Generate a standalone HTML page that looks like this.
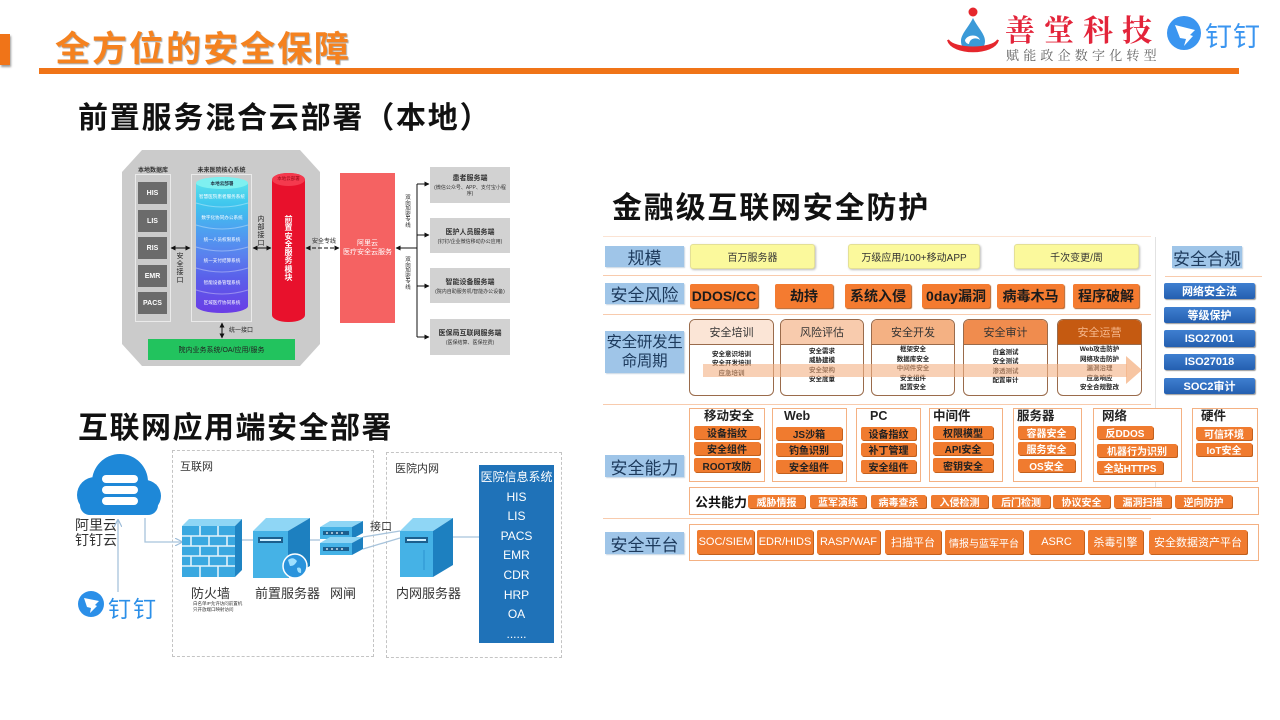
<!DOCTYPE html>
<html><head><meta charset="utf-8">
<style>
*{margin:0;padding:0;box-sizing:border-box}
body{width:1280px;height:720px;overflow:hidden;background:#fff;position:relative;font-family:"Liberation Sans","Noto Sans CJK SC",sans-serif;color:#222}
.a{position:absolute}
.c{display:flex;align-items:center;justify-content:center;text-align:center}
.h{font-weight:bold;color:#111;white-space:nowrap}
.vt{word-break:break-all;text-align:center;line-height:1.05;white-space:normal}
.db{background:#6b6b6b;color:#fff;font-weight:bold;font-size:7px}
.gb{background:#d2d2d2;flex-direction:column;color:#333}
.gb b{font-size:7px}
.gb span{font-size:5px;margin-top:2px;line-height:1.2}
.lbl{background:#9fc5e8;color:#1d3a5c;font-size:17px;box-shadow:1px 1px 1px #c9d6e3;white-space:nowrap}
.yb{background:#fbf99c;border:1px solid #e4e096;box-shadow:1px 1px 2px #bbb;font-size:10px;color:#333;border-radius:3px}
.rk{background:#f47b30;box-shadow:1px 1px 1px #b55c20;font-size:14px;font-weight:bold;color:#1b1b1b;border-radius:2px}
.card{border:1.5px solid #9a6b4b;border-radius:6px;background:#fff;overflow:hidden}
.card .hd{height:25px;border-bottom:1.5px solid #9a6b4b;font-size:11px;color:#333}
.card .bd{font-size:6.5px;line-height:9.3px;text-align:center;padding-top:5px;color:#222;font-weight:bold}
.cap{border:1px solid #f4b183;background:#fff}
.cap .t{position:absolute;font-size:12.5px;line-height:13px;font-weight:bold;color:#222;white-space:nowrap}
.it{background:#f07b2f;box-shadow:1px 1px 0 #c2601d;font-size:10px;font-weight:bold;color:#222;border-radius:2px;height:13px;white-space:nowrap}
.iw{color:#fff}
.pt{background:#f07b2f;box-shadow:1px 1px 0 #c2601d;font-size:11px;color:#fff;border-radius:2px;height:24px;white-space:nowrap}
.bb{background:linear-gradient(#3f7fd0,#245fb0);color:#fff;font-size:11px;font-weight:bold;border-radius:2px;box-shadow:1px 1px 1px #999}
</style></head><body>

<!-- header -->
<div class="a" style="left:0;top:34px;width:10px;height:31px;background:#f07418;box-shadow:1px 2px 2px #999"></div>
<div class="a h" style="left:55px;top:21px;font-size:35px;letter-spacing:2px;color:#f5821f;text-shadow:1px 1px 1px rgba(0,0,0,.35)">全方位的安全保障</div>
<div class="a" style="left:39px;top:68px;width:1200px;height:6px;background:#f07418"></div>

<svg class="a" style="left:0;top:0" width="1280" height="720">
  <circle cx="973" cy="12" r="4.5" fill="#e5272d"/>
  <path d="M973 18 C968 28 961 34 961 41 C961 48 966 52 973 52 C980 52 985 48 985 41 C985 34 978 28 973 18Z" fill="#3a9ad8"/>
  <path d="M965 40 C968 34 978 34 980 40 C976 37 970 38 969 44 C967 44 965 42 965 40Z" fill="#fff"/>
  <path d="M948 40 C952 55 994 55 998 40 C992 50 954 50 948 40Z" fill="#e5272d" stroke="#e5272d" stroke-width="2"/>
  <circle cx="1184" cy="33" r="17" fill="#3a95f0"/>
  <path d="M1175 25 L1195 30 L1190 35 L1193 36 L1184 46 L1186 39 L1180 38 Z" fill="#fff"/>
</svg>
<div class="a" style="left:1005px;top:6px;font-family:'Noto Serif CJK SC',serif;font-size:30px;letter-spacing:9px;color:#e3243a;font-weight:bold;white-space:nowrap">善堂科技</div>
<div class="a" style="left:1006px;top:45px;font-family:'Noto Serif CJK SC',serif;font-size:13px;letter-spacing:4.2px;color:#666;white-space:nowrap">赋能政企数字化转型</div>
<div class="a" style="left:1205px;top:15px;font-size:27px;color:#3a95f0;white-space:nowrap;letter-spacing:1px">钉钉</div>

<!-- subtitles -->
<div class="a h" style="left:78px;top:93px;font-size:30px;letter-spacing:1.8px">前置服务混合云部署（本地）</div>
<div class="a h" style="left:78px;top:403px;font-size:30px;letter-spacing:1.5px">互联网应用端安全部署</div>
<div class="a h" style="left:612px;top:183px;font-size:30px;letter-spacing:1.8px">金融级互联网安全防护</div>

<!-- ===== top-left diagram ===== -->
<div class="a" style="left:122px;top:150px;width:198px;height:216px;background:#cbcbcb;clip-path:polygon(20px 0,178px 0,198px 22px,198px 194px,178px 216px,20px 216px,0 194px,0 22px)"></div>
<div class="a h" style="left:135px;top:165px;width:36px;text-align:center;font-size:6px;color:#333">本地数据库</div>
<div class="a h" style="left:191px;top:165px;width:61px;text-align:center;font-size:6px;color:#333">未来医院核心系统</div>
<div class="a" style="left:135px;top:174px;width:36px;height:148px;border:1px solid #eaeaea"></div>
<div class="a" style="left:191px;top:174px;width:61px;height:148px;border:1px solid #eaeaea"></div>
<div class="a c db" style="left:138px;top:182px;width:29px;height:22px">HIS</div>
<div class="a c db" style="left:138px;top:210px;width:29px;height:22px">LIS</div>
<div class="a c db" style="left:138px;top:237px;width:29px;height:22px">RIS</div>
<div class="a c db" style="left:138px;top:265px;width:29px;height:22px">EMR</div>
<div class="a c db" style="left:138px;top:292px;width:29px;height:22px">PACS</div>

<div class="a" style="left:196px;top:177px;width:52px;height:136px;border-radius:26px/7px;background:linear-gradient(#62e8ea 0%,#3fc6ee 20%,#4e9ff0 40%,#5a80ee 58%,#5a60ea 74%,#6a3de6 100%)"></div>
<div class="a" style="left:196px;top:177px;width:52px;height:12px;border-radius:50%;background:#7ef0f0"></div>
<div class="a" style="left:196px;top:179px;width:52px;height:136px;font-size:4.6px;color:#fff;text-align:center;white-space:nowrap">
 <div style="position:absolute;top:2px;width:52px;color:#234;font-weight:bold">本地云部署</div>
 <div style="position:absolute;top:15px;width:52px">智慧医院患者服务系统</div>
 <div style="position:absolute;top:36px;width:52px">数字化协同办公系统</div>
 <div style="position:absolute;top:58px;width:52px">统一人员权限系统</div>
 <div style="position:absolute;top:79px;width:52px">统一支付结算系统</div>
 <div style="position:absolute;top:101px;width:52px">智能设备管理系统</div>
 <div style="position:absolute;top:121px;width:52px">区域医疗协同系统</div>
</div>

<div class="a" style="left:272px;top:173px;width:33px;height:149px;border-radius:16px/7px;background:#e8112c"></div>
<div class="a" style="left:272px;top:173px;width:33px;height:13px;border-radius:50%;background:#f43a4e"></div>
<div class="a" style="left:272px;top:176px;width:33px;text-align:center;font-size:4.5px;color:#9a0716;white-space:nowrap">本地云部署</div>
<div class="a vt" style="left:283px;top:216px;width:11px;font-size:8px;font-weight:bold;color:#fff;line-height:8.3px">前<br>置<br>安<br>全<br>服<br>务<br>模<br>块</div>

<div class="a vt" style="left:176px;top:253px;width:8px;font-size:7px;color:#222;line-height:8px">安<br>全<br>接<br>口</div>
<div class="a vt" style="left:257px;top:216px;width:8px;font-size:7px;color:#222;line-height:8px">内<br>部<br>接<br>口</div>
<div class="a" style="left:312px;top:236px;font-size:6px;color:#222;white-space:nowrap">安全专线</div>
<div class="a" style="left:229px;top:325px;font-size:6px;color:#222;white-space:nowrap">统一接口</div>
<div class="a c" style="left:148px;top:339px;width:147px;height:21px;background:#22c35e;font-size:7px;color:#222">院内业务系统/OA/应用/服务</div>

<div class="a c" style="left:340px;top:173px;width:55px;height:150px;background:#f56262;color:#fff;font-size:7px;line-height:9px">阿里云<br>医疗安全云服务</div>
<div class="a vt" style="left:404px;top:196px;width:8px;font-size:5.5px;line-height:5.6px">双<br>向<br>加<br>密<br>专<br>线</div>
<div class="a vt" style="left:404px;top:258px;width:8px;font-size:5.5px;line-height:5.6px">双<br>向<br>加<br>密<br>专<br>线</div>
<div class="a c gb" style="left:430px;top:167px;width:80px;height:36px"><b>患者服务端</b><span>(微信公众号、APP、支付宝小程<br>序)</span></div>
<div class="a c gb" style="left:430px;top:218px;width:80px;height:35px"><b>医护人员服务端</b><span>(钉钉/企业微信移动办公应用)</span></div>
<div class="a c gb" style="left:430px;top:268px;width:80px;height:35px"><b>智能设备服务端</b><span>(院内自助服务机/智能办公设备)</span></div>
<div class="a c gb" style="left:430px;top:319px;width:80px;height:36px"><b>医保局互联网服务端</b><span>(医保结算、医保控费)</span></div>

<!-- ===== bottom-left diagram ===== -->
<div class="a" style="left:172px;top:450px;width:202px;height:207px;border:1px dashed #c4c4c4"></div>
<div class="a" style="left:386px;top:452px;width:176px;height:206px;border:1px dashed #c4c4c4"></div>
<div class="a" style="left:180px;top:458px;font-size:11px;color:#333">互联网</div>
<div class="a" style="left:395px;top:460px;font-size:11px;color:#333">医院内网</div>
<div class="a" style="left:75px;top:518px;font-size:14px;line-height:15px;color:#333">阿里云<br>钉钉云</div>
<div class="a" style="left:108px;top:590px;font-size:23px;color:#2b8fe8;letter-spacing:2px">钉钉</div>
<div class="a" style="left:191px;top:583px;font-size:13px;color:#333">防火墙</div>
<div class="a" style="left:193px;top:601px;font-size:4.5px;line-height:6px;color:#333;white-space:nowrap">白名单IP允许访问前置机<br>只开放端口映射访问</div>
<div class="a" style="left:255px;top:583px;font-size:13px;color:#333;white-space:nowrap">前置服务器</div>
<div class="a" style="left:330px;top:583px;font-size:13px;color:#333">网闸</div>
<div class="a" style="left:370px;top:518px;font-size:11px;color:#333">接口</div>
<div class="a" style="left:396px;top:583px;font-size:13px;color:#333;white-space:nowrap">内网服务器</div>
<div class="a" style="left:479px;top:465px;width:75px;height:178px;background:#1f72b8;color:#fff;font-size:12px;text-align:center;line-height:19.6px;padding-top:3px">医院信息系统<br>HIS<br>LIS<br>PACS<br>EMR<br>CDR<br>HRP<br>OA<br>......</div>

<!-- ===== right diagram ===== -->
<div class="a" style="left:603px;top:236px;width:548px;height:1px;background:#fbe3d3"></div>
<div class="a" style="left:603px;top:275px;width:548px;height:1px;background:#f8cbad"></div>
<div class="a" style="left:603px;top:314px;width:548px;height:1px;background:#f8cbad"></div>
<div class="a" style="left:603px;top:404px;width:548px;height:1px;background:#f8cbad"></div>
<div class="a" style="left:603px;top:518px;width:548px;height:1px;background:#f8cbad"></div>
<div class="a" style="left:1155px;top:237px;width:1px;height:268px;background:#e2e2e2"></div>
<div class="a" style="left:1165px;top:276px;width:97px;height:1px;background:#f8cbad"></div>

<div class="a c lbl" style="left:605px;top:246px;width:79px;height:21px">规模</div>
<div class="a c lbl" style="left:605px;top:283px;width:79px;height:21px">安全风险</div>
<div class="a c lbl" style="left:605px;top:331px;width:79px;height:42px;font-size:15.5px;line-height:19px;letter-spacing:-0.3px">安全研发生<br>命周期</div>
<div class="a c lbl" style="left:605px;top:455px;width:79px;height:22px">安全能力</div>
<div class="a c lbl" style="left:605px;top:532px;width:79px;height:22px">安全平台</div>
<div class="a c lbl" style="left:1172px;top:246px;width:70px;height:22px">安全合规</div>

<div class="a c yb" style="left:690px;top:244px;width:125px;height:25px">百万服务器</div>
<div class="a c yb" style="left:848px;top:244px;width:132px;height:25px">万级应用/100+移动APP</div>
<div class="a c yb" style="left:1014px;top:244px;width:125px;height:25px">千次变更/周</div>

<div class="a c rk" style="left:690px;top:284px;width:68px;height:24px">DDOS/CC</div>
<div class="a c rk" style="left:775px;top:284px;width:58px;height:24px">劫持</div>
<div class="a c rk" style="left:845px;top:284px;width:66px;height:24px">系统入侵</div>
<div class="a c rk" style="left:922px;top:284px;width:68px;height:24px">0day漏洞</div>
<div class="a c rk" style="left:997px;top:284px;width:67px;height:24px">病毒木马</div>
<div class="a c rk" style="left:1073px;top:284px;width:66px;height:24px">程序破解</div>

<div class="a card" style="left:689px;top:319px;width:85px;height:77px"><div class="c hd" style="background:#fbe5d6">安全培训</div><div class="bd">安全意识培训<br>安全开发培训<br>应急培训</div></div>
<div class="a card" style="left:780px;top:319px;width:84px;height:77px"><div class="c hd" style="background:#f8cbad">风险评估</div><div class="bd" style="padding-top:2px">安全需求<br>威胁建模<br>安全架构<br>安全度量</div></div>
<div class="a card" style="left:871px;top:319px;width:84px;height:77px"><div class="c hd" style="background:#f4b183">安全开发</div><div class="bd" style="padding-top:0;line-height:9.5px">框架安全<br>数据库安全<br>中间件安全<br>安全组件<br>配置安全</div></div>
<div class="a card" style="left:963px;top:319px;width:85px;height:77px"><div class="c hd" style="background:#f08c4e">安全审计</div><div class="bd" style="padding-top:3px">白盒测试<br>安全测试<br>渗透测试<br>配置审计</div></div>
<div class="a card" style="left:1057px;top:319px;width:85px;height:77px"><div class="c hd" style="background:#c55a11;color:#f6b88c">安全运营</div><div class="bd" style="padding-top:0;line-height:9.5px">Web攻击防护<br>网络攻击防护<br>漏洞治理<br>应急响应<br>安全合规整改</div></div>
<svg class="a" style="left:0;top:0" width="1280" height="720">
  <rect x="703" y="364" width="424" height="13" fill="#f4b183" opacity="0.6"/>
  <polygon points="1126,356 1142,370 1126,384" fill="#f4b183" opacity="0.75"/>
</svg>

<div class="a c bb" style="left:1164px;top:283px;width:91px;height:16px">网络安全法</div>
<div class="a c bb" style="left:1164px;top:307px;width:91px;height:16px">等级保护</div>
<div class="a c bb" style="left:1164px;top:330px;width:91px;height:17px">ISO27001</div>
<div class="a c bb" style="left:1164px;top:354px;width:91px;height:16px">ISO27018</div>
<div class="a c bb" style="left:1164px;top:378px;width:91px;height:16px">SOC2审计</div>

<!-- capability boxes -->
<div class="a cap" style="left:689px;top:408px;width:76px;height:74px"><div class="t" style="left:14px;top:1px">移动安全</div></div>
<div class="a cap" style="left:772px;top:408px;width:75px;height:74px"><div class="t" style="left:11px;top:1px">Web</div></div>
<div class="a cap" style="left:856px;top:408px;width:65px;height:74px"><div class="t" style="left:13px;top:1px">PC</div></div>
<div class="a cap" style="left:929px;top:408px;width:74px;height:74px"><div class="t" style="left:3px;top:1px">中间件</div></div>
<div class="a cap" style="left:1013px;top:408px;width:69px;height:74px"><div class="t" style="left:3px;top:1px">服务器</div></div>
<div class="a cap" style="left:1093px;top:408px;width:89px;height:74px"><div class="t" style="left:8px;top:1px">网络</div></div>
<div class="a cap" style="left:1192px;top:408px;width:66px;height:74px"><div class="t" style="left:8px;top:1px">硬件</div></div>

<div class="a c it" style="left:694px;top:426px;width:66px">设备指纹</div>
<div class="a c it" style="left:694px;top:442px;width:66px">安全组件</div>
<div class="a c it" style="left:694px;top:458px;width:66px;height:14px">ROOT攻防</div>
<div class="a c it" style="left:776px;top:427px;width:66px">JS沙箱</div>
<div class="a c it" style="left:776px;top:443px;width:66px">钓鱼识别</div>
<div class="a c it" style="left:776px;top:460px;width:66px">安全组件</div>
<div class="a c it" style="left:861px;top:427px;width:55px">设备指纹</div>
<div class="a c it" style="left:861px;top:443px;width:55px">补丁管理</div>
<div class="a c it" style="left:861px;top:460px;width:55px">安全组件</div>
<div class="a c it" style="left:933px;top:426px;width:60px">权限模型</div>
<div class="a c it" style="left:933px;top:442px;width:60px">API安全</div>
<div class="a c it" style="left:933px;top:458px;width:60px;height:14px">密钥安全</div>
<div class="a c it iw" style="left:1018px;top:426px;width:57px">容器安全</div>
<div class="a c it iw" style="left:1018px;top:442px;width:57px">服务安全</div>
<div class="a c it iw" style="left:1018px;top:459px;width:57px">OS安全</div>
<div class="a c it iw" style="left:1097px;top:426px;width:56px">反DDOS</div>
<div class="a c it iw" style="left:1097px;top:444px;width:80px">机器行为识别</div>
<div class="a c it iw" style="left:1097px;top:461px;width:66px">全站HTTPS</div>
<div class="a c it iw" style="left:1196px;top:427px;width:56px">可信环境</div>
<div class="a c it iw" style="left:1196px;top:443px;width:56px">IoT安全</div>

<div class="a cap" style="left:689px;top:487px;width:570px;height:28px"></div>
<div class="a" style="left:695px;top:492px;font-size:13px;font-weight:bold;color:#111">公共能力</div>
<div class="a c it iw" style="left:748px;top:495px;width:57px">威胁情报</div>
<div class="a c it iw" style="left:810px;top:495px;width:56px">蓝军演练</div>
<div class="a c it iw" style="left:871px;top:495px;width:55px">病毒查杀</div>
<div class="a c it iw" style="left:931px;top:495px;width:57px">入侵检测</div>
<div class="a c it iw" style="left:992px;top:495px;width:58px">后门检测</div>
<div class="a c it iw" style="left:1053px;top:495px;width:57px">协议安全</div>
<div class="a c it iw" style="left:1114px;top:495px;width:57px">漏洞扫描</div>
<div class="a c it iw" style="left:1175px;top:495px;width:57px">逆向防护</div>

<div class="a cap" style="left:689px;top:524px;width:570px;height:37px"></div>
<div class="a c pt" style="left:697px;top:530px;width:57px">SOC/SIEM</div>
<div class="a c pt" style="left:757px;top:530px;width:56px">EDR/HIDS</div>
<div class="a c pt" style="left:817px;top:530px;width:63px">RASP/WAF</div>
<div class="a c pt" style="left:885px;top:530px;width:56px">扫描平台</div>
<div class="a c pt" style="left:945px;top:530px;width:78px;font-size:10px">情报与蓝军平台</div>
<div class="a c pt" style="left:1029px;top:530px;width:55px">ASRC</div>
<div class="a c pt" style="left:1088px;top:530px;width:55px">杀毒引擎</div>
<div class="a c pt" style="left:1149px;top:530px;width:98px">安全数据资产平台</div>

<!-- SVG connectors and icons -->
<svg class="a" style="left:0;top:0" width="1280" height="720">
  <defs>
    <marker id="ak" viewBox="0 0 10 10" refX="9" refY="5" markerWidth="5" markerHeight="5" orient="auto-start-reverse"><path d="M0,0 L10,5 L0,10 z" fill="#111"/></marker>
    <marker id="ab" viewBox="0 0 10 10" refX="9" refY="5" markerWidth="6" markerHeight="6" orient="auto-start-reverse"><path d="M0,0 L10,5 L0,10" fill="none" stroke="#9dbcd8" stroke-width="1.5"/></marker>
  </defs>
  <g stroke="#ffffff" stroke-opacity="0.35" fill="none" stroke-width="1">
    <path d="M196,203 Q222,211 248,203"/><path d="M196,225 Q222,233 248,225"/>
    <path d="M196,247 Q222,255 248,247"/><path d="M196,268 Q222,276 248,268"/>
    <path d="M196,290 Q222,298 248,290"/>
  </g>
  <g stroke="#111" stroke-width="1" fill="none">
    <line x1="171" y1="248" x2="190" y2="248" marker-start="url(#ak)" marker-end="url(#ak)"/>
    <line x1="253" y1="248" x2="271" y2="248" marker-start="url(#ak)" marker-end="url(#ak)"/>
    <line x1="306" y1="248" x2="339" y2="248" stroke-dasharray="4,2" marker-start="url(#ak)" marker-end="url(#ak)"/>
    <line x1="222" y1="323" x2="222" y2="338" marker-start="url(#ak)" marker-end="url(#ak)"/>
    <line x1="417" y1="248" x2="396" y2="248" marker-end="url(#ak)"/>
    <line x1="417" y1="184" x2="417" y2="337"/>
    <line x1="417" y1="184" x2="429" y2="184" marker-end="url(#ak)"/>
    <line x1="417" y1="235" x2="429" y2="235" marker-end="url(#ak)"/>
    <line x1="417" y1="286" x2="429" y2="286" marker-end="url(#ak)"/>
    <line x1="417" y1="337" x2="429" y2="337" marker-end="url(#ak)"/>
  </g>

  <g fill="#1e88d8">
    <circle cx="120" cy="482" r="28"/>
    <circle cx="95" cy="495" r="18"/>
    <circle cx="145" cy="496" r="16"/>
    <rect x="95" y="490" width="50" height="25" rx="4"/>
    <rect x="80" y="495" width="78" height="20" rx="10"/>
  </g>
  <g fill="#fff">
    <rect x="102" y="475" width="36" height="8" rx="4"/>
    <rect x="102" y="486" width="36" height="8" rx="4"/>
    <rect x="102" y="497" width="36" height="8" rx="4"/>
  </g>
  <circle cx="91" cy="604" r="13" fill="#2b8fe8"/>
  <path d="M84 598 L99 601 L95 605 L97 606 L90 613 L91 608 L87 607 Z" fill="#fff"/>
  <g stroke="#a8c4dc" stroke-width="1.3" fill="none">
    <line x1="118" y1="592" x2="118" y2="520" marker-end="url(#ab)"/>
    <polyline points="145,518 145,542 182,542" marker-end="url(#ab)"/>
    <line x1="242" y1="540" x2="253" y2="540"/>
    <line x1="310" y1="540" x2="320" y2="540"/>
    <line x1="363" y1="537" x2="400" y2="531"/>
    <line x1="363" y1="549" x2="400" y2="538"/>
    <line x1="453" y1="537" x2="479" y2="537"/>
  </g>
  <polygon points="182,526 189,519 242,519 235,526" fill="#8fd6f5"/>
  <rect x="182" y="526" width="53" height="51" fill="#3aa8e0"/>
  <polygon points="235,526 242,519 242,570 235,577" fill="#1f84c3"/>
  <g stroke="#fff" stroke-width="1.6" opacity="0.85">
    <line x1="182" y1="536" x2="235" y2="536"/><line x1="182" y1="546" x2="235" y2="546"/>
    <line x1="182" y1="556" x2="235" y2="556"/><line x1="182" y1="566" x2="235" y2="566"/>
    <line x1="200" y1="526" x2="200" y2="536"/><line x1="218" y1="526" x2="218" y2="536"/>
    <line x1="191" y1="536" x2="191" y2="546"/><line x1="209" y1="536" x2="209" y2="546"/><line x1="227" y1="536" x2="227" y2="546"/>
    <line x1="200" y1="546" x2="200" y2="556"/><line x1="218" y1="546" x2="218" y2="556"/>
    <line x1="191" y1="556" x2="191" y2="566"/><line x1="209" y1="556" x2="209" y2="566"/><line x1="227" y1="556" x2="227" y2="566"/>
    <line x1="200" y1="566" x2="200" y2="577"/><line x1="218" y1="566" x2="218" y2="577"/>
  </g>
  <polygon points="253,531 266,518 310,518 288,531" fill="#8fd6f5"/>
  <rect x="253" y="531" width="35" height="47" fill="#45b2e6"/>
  <polygon points="288,531 310,518 310,566 288,578" fill="#1d80c0"/>
  <rect x="258" y="537" width="25" height="6" fill="#1b5f8e"/>
  <rect x="260" y="539" width="21" height="2" fill="#cfefff"/>
  <circle cx="295" cy="566" r="12" fill="#2a93dc" stroke="#fff" stroke-width="1.5"/>
  <path d="M288 560 Q293 556 297 561 Q295 566 290 566 Z M297 568 Q302 566 301 573 Q297 573 297 568 Z" fill="#9fe0ff"/>
  <polygon points="320,527 330,521 363,521 352,527" fill="#8fd6f5"/>
  <rect x="320" y="527" width="32" height="12" fill="#45b2e6"/>
  <polygon points="352,527 363,521 363,533 352,539" fill="#1d80c0"/>
  <polygon points="320,543 330,537 363,537 352,543" fill="#8fd6f5"/>
  <rect x="320" y="543" width="32" height="12" fill="#45b2e6"/>
  <polygon points="352,543 363,537 363,549 352,555" fill="#1d80c0"/>
  <rect x="323" y="531" width="26" height="4" fill="#1b5f8e"/>
  <rect x="323" y="547" width="26" height="4" fill="#1b5f8e"/>
  <g fill="#fff"><circle cx="327" cy="533" r="0.9"/><circle cx="332" cy="533" r="0.9"/><circle cx="337" cy="533" r="0.9"/><circle cx="342" cy="533" r="0.9"/><circle cx="327" cy="549" r="0.9"/><circle cx="332" cy="549" r="0.9"/><circle cx="337" cy="549" r="0.9"/><circle cx="342" cy="549" r="0.9"/></g>
  <polygon points="400,531 413,518 453,518 433,531" fill="#8fd6f5"/>
  <rect x="400" y="531" width="33" height="46" fill="#45b2e6"/>
  <polygon points="433,531 453,518 453,565 433,577" fill="#1d80c0"/>
  <rect x="405" y="537" width="23" height="6" fill="#1b5f8e"/>
  <rect x="407" y="539" width="19" height="2" fill="#cfefff"/>
  <line x1="424" y1="550" x2="424" y2="570" stroke="#2a93d0" stroke-width="1"/>
</svg>

</body></html>
